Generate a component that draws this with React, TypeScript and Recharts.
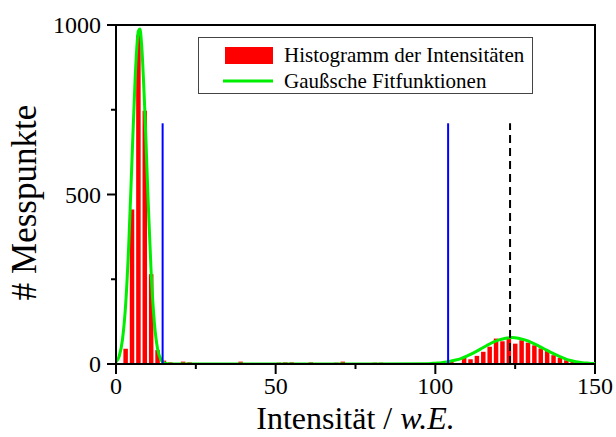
import {
  ComposedChart,
  Bar,
  Line,
  XAxis,
  YAxis,
  ReferenceLine,
  ReferenceArea,
  Label,
} from "recharts";

const FONT = '"Liberation Serif", "Times New Roman", serif';

// histogram: bin centres (bin width 2) and counts, empty bins left out
const binCenters = [
  3, 5, 7, 9, 11, 13, 15, 17, 21, 23, 39, 51, 53, 55, 61, 69, 71, 81, 83, 103,
  105, 109, 111, 113, 115, 117, 119, 121, 123, 125, 127, 129, 131, 133, 135,
  137, 139, 141, 143, 145, 147,
];
const binCounts = [
  45, 456, 970, 747, 265, 41, 10, 5, 7, 5, 7, 4, 5, 5, 5, 4, 7, 4, 4, 4, 9, 18,
  14, 24, 36, 51, 75, 67, 80, 60, 70, 63, 55, 46, 38, 26, 18, 11, 6, 3, 2,
];

// gaussian fit curves
const fitX = [
  0, 1, 2, 3, 4, 5, 6, 7, 7.5, 8, 9, 10, 11, 12, 13, 14, 15, 16, 18, 40, 60,
  80, 98, 100, 102, 104, 106, 108, 110, 112, 114, 116, 118, 120, 122, 124, 126,
  128, 130, 132, 134, 136, 138, 140, 142, 144, 146, 148, 150,
];
const fitY = [
  6, 23, 70, 172, 353, 600, 843, 982, 988, 945, 753, 497, 271, 123, 46, 14, 4,
  1, 0, 0, 0, 0, 1, 2.5, 4, 7, 11, 16, 24, 33, 43, 54, 64, 71, 76, 78, 76, 71,
  64, 55, 45, 35, 26, 18, 11, 7, 4, 2.5, 1.5,
];

const xTicks = [0, 25, 50, 75, 100, 125, 150];
const yTicks = [0, 250, 500, 750, 1000];

// thresholds (blue) and peak position (dashed)
const thresholdX = [14.6, 104];
const peakX = 123.4;
const markerTop = 710;

const histData = binCenters.map((x, i) => ({ x, count: binCounts[i] }));
const fitData = fitX.map((x, i) => ({ x, fit: fitY[i] }));

function XTick(props: any) {
  const { x, y, payload } = props;
  const axisY = y - 14;
  const major = payload.value % 50 === 0;
  return (
    <g>
      <line x1={x} x2={x} y1={axisY} y2={axisY + (major ? 10 : 5)} stroke="#000" strokeWidth={2} />
      {major && (
        <text x={x} y={axisY + 30} textAnchor="middle" fontSize={24} fontFamily={FONT} fill="#000">
          {payload.value}
        </text>
      )}
    </g>
  );
}

function YTick(props: any) {
  const { x, y, payload } = props;
  const axisX = x + 15;
  const major = payload.value % 500 === 0;
  return (
    <g>
      <line x1={axisX - (major ? 9 : 5)} x2={axisX} y1={y} y2={y} stroke="#000" strokeWidth={2} />
      {major && (
        <text x={x} y={y + 8} textAnchor="end" fontSize={24} fontFamily={FONT} fill="#000">
          {payload.value}
        </text>
      )}
    </g>
  );
}

function XTitle(props: any) {
  const { x, y, width } = props.viewBox;
  return (
    <text x={x + width / 2} y={y + 65} textAnchor="middle" fontSize={32} fontFamily={FONT} fill="#000">
      Intensität / <tspan fontStyle="italic">w.E.</tspan>
    </text>
  );
}

function YTitle(props: any) {
  const { y, height } = props.viewBox;
  const cy = y + height / 2 + 8;
  return (
    <text
      x={24}
      y={cy}
      transform={`rotate(-90, 24, ${cy})`}
      textAnchor="middle"
      dominantBaseline="central"
      fontSize={35}
      fontFamily={FONT}
      fill="#000"
    >
      # Messpunkte
    </text>
  );
}

export default function App() {
  return (
    <div style={{ position: "absolute", left: 0, top: 0, width: 616, height: 437, background: "#fff" }}>
      <ComposedChart
        width={616}
        height={437}
        data={histData}
        margin={{ top: 25, right: 21, bottom: 0, left: 0 }}
      >
        <XAxis
          type="number"
          dataKey="x"
          domain={[0, 150]}
          ticks={xTicks}
          interval={0}
          height={73}
          tickSize={10}
          tickMargin={4}
          tickLine={false}
          tick={<XTick />}
          axisLine={{ stroke: "#000", strokeWidth: 2 }}
          allowDataOverflow
        >
          <Label content={XTitle} />
        </XAxis>
        <XAxis xAxisId="fit" type="number" dataKey="x" domain={[0, 150]} hide allowDataOverflow />
        <YAxis
          type="number"
          domain={[0, 1000]}
          ticks={yTicks}
          interval={0}
          width={116}
          tickSize={9}
          tickMargin={6}
          tickLine={false}
          tick={<YTick />}
          axisLine={{ stroke: "#000", strokeWidth: 2 }}
          allowDataOverflow
        >
          <Label content={YTitle} />
        </YAxis>
        <ReferenceArea x1={0} x2={150} y1={0} y2={1000} fill="none" stroke="#000" strokeWidth={2} />
        <Bar dataKey="count" fill="#ff0000" barSize={4.5} isAnimationActive={false} />
        <Line
          xAxisId="fit"
          data={fitData}
          dataKey="fit"
          type="monotone"
          stroke="#00ee00"
          strokeWidth={3}
          dot={false}
          activeDot={false}
          isAnimationActive={false}
        />
        {thresholdX.map((t) => (
          <ReferenceLine
            key={t}
            segment={[{ x: t, y: 0 }, { x: t, y: markerTop }]}
            stroke="#0000ff"
            strokeWidth={2}
          />
        ))}
        <ReferenceLine
          segment={[{ x: peakX, y: 0 }, { x: peakX, y: markerTop }]}
          stroke="#000"
          strokeWidth={2}
          strokeDasharray="8 5"
        />
      </ComposedChart>
      <svg width={616} height={437} style={{ position: "absolute", left: 0, top: 0, pointerEvents: "none" }}>
        <rect x={198.5} y={37.5} width={334} height={56} fill="#fff" stroke="#444" strokeWidth={1} />
        <rect x={225} y={47} width={48} height={17} fill="#ff0000" />
        <text x={284} y={62} fontSize={21} fontFamily={FONT} fill="#000">
          Histogramm der Intensitäten
        </text>
        <line x1={223} x2={273} y1={81} y2={81} stroke="#00ee00" strokeWidth={3} />
        <text x={284} y={88} fontSize={21} fontFamily={FONT} fill="#000">
          Gaußsche Fitfunktionen
        </text>
      </svg>
    </div>
  );
}
